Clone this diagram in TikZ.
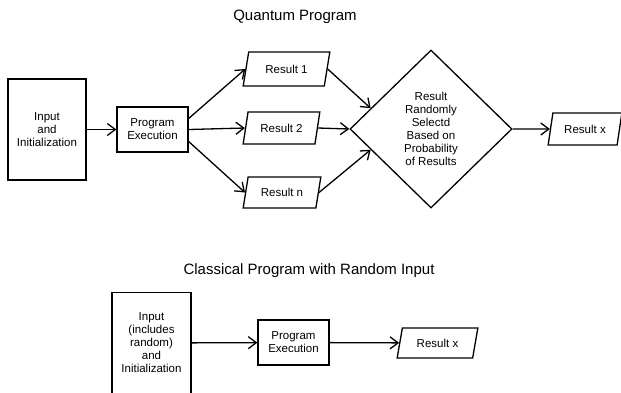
\documentclass[tikz,border=0pt]{standalone}
\usepackage{fontspec}
\setmainfont{Liberation Sans}
\usepackage{tikz}
\usetikzlibrary{arrows.meta,shapes.geometric}
\tikzset{
  procbox/.style={
    draw,
    line width=1.3pt,
    align=center,
    inner sep=0pt,
    font=\fontsize{11.5}{13}\selectfont
  },
  iobox/.style={
    trapezium,
    trapezium left angle=70,
    trapezium right angle=110,
    trapezium stretches=true,
    draw,
    line width=1.3pt,
    inner sep=0pt,
    font=\fontsize{11.5}{13}\selectfont
  },
  decision/.style={
    diamond,
    draw,
    line width=1.3pt,
    align=center,
    inner sep=0pt,
    minimum width=162pt,
    minimum height=158pt,
    font=\fontsize{11.5}{13}\selectfont
  },
  heading/.style={
    font=\fontsize{15}{17}\selectfont
  },
  connection/.style={
    line width=1.3pt,
    -{Straight Barb[length=8pt,width=12pt]}
  }
}

\begin{document}
\begin{tikzpicture}[x=1pt,y=-1pt]
  \useasboundingbox (0,0) rectangle (621,392);
  \clip (0,0) rectangle (621,392);

  % Quantum program
  \node[heading] (qtitle) at (295,17) {Quantum Program};

  \node[procbox, minimum width=78pt, minimum height=101pt] (qinput) at (47,129.5) {Input\\and\\Initialization};
  \node[procbox, minimum width=71pt, minimum height=45pt] (qexec) at (152.5,129.5) {Program\\Execution};

  \node[iobox, minimum width=87pt, minimum height=34pt] (res1) at (286.5,69) {Result 1};
  \node[iobox, minimum width=77pt, minimum height=32pt] (res2) at (281.5,128) {Result 2};
  \node[iobox, minimum width=78pt, minimum height=31pt] (resn) at (282,192.5) {Result n};

  \node[decision] (pick) at (431,129) {Result\\Randomly\\Selectd\\Based on\\Probability\\of Results};

  \node[iobox, minimum width=74pt, minimum height=32pt] (qresx) at (585,129) {Result x};

  \draw[connection] (qinput) -- (qexec);
  \draw[connection] ([yshift=11pt]qexec.east) -- (res1.west);
  \draw[connection] (qexec.east) -- (res2.west);
  \draw[connection] ([yshift=-12pt]qexec.east) -- (resn.west);
  \draw[connection] (res1.east) -- (pick.161);
  \draw[connection] (res2.east) -- (pick.west);
  \draw[connection] (resn.east) -- (pick.199);
  \draw[connection] (pick.east) -- (qresx.west);

  % Classical program
  \node[heading] (ctitle) at (309,271) {Classical Program with Random Input};

  \node[procbox, minimum width=79pt, minimum height=101pt] (cinput) at (151.5,343) {Input\\(includes\\random)\\and\\Initialization};
  \node[procbox, minimum width=71pt, minimum height=45pt] (cexec) at (293.5,342.5) {Program\\Execution};
  \node[iobox, minimum width=81pt, minimum height=30pt] (cresx) at (437.5,343) {Result x};

  \draw[connection] (cinput) -- (cexec);
  \draw[connection] (cexec) -- (cresx);
\end{tikzpicture}
\end{document}
